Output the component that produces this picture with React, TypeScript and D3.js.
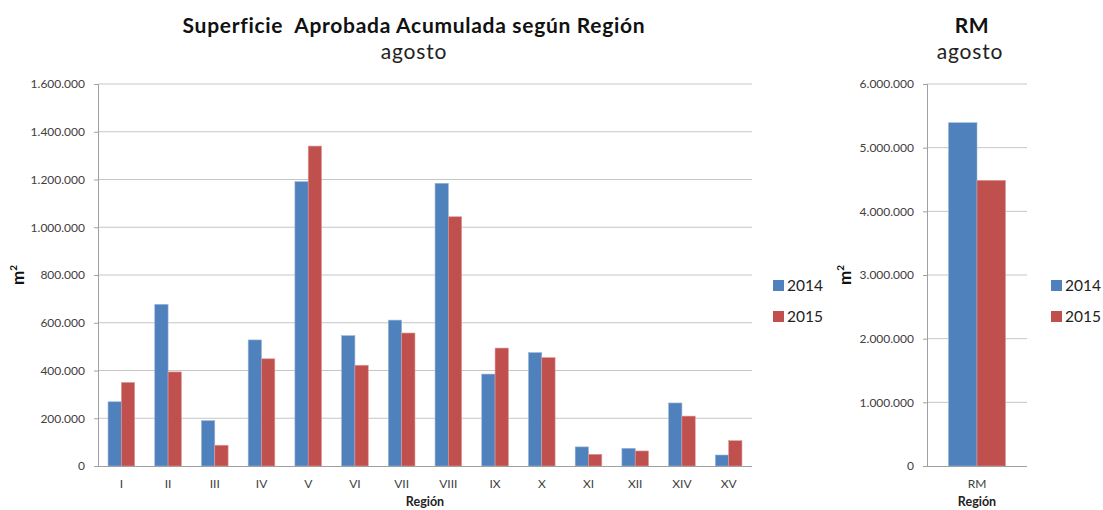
import React, {useEffect, useRef} from "react";
import * as d3 from "d3";

// data
const regions = ["I", "II", "III", "IV", "V", "VI", "VII", "VIII", "IX", "X", "XI", "XII", "XIV", "XV"];
const values2014 = [269000, 677000, 190000, 528000, 1191000, 546000, 611000, 1184000, 385000, 475000, 80000, 74000, 264000, 46000];
const values2015 = [350000, 394000, 87000, 449000, 1340000, 422000, 557000, 1044000, 494000, 454000, 49000, 63000, 209000, 106000];
const rmCategories = ["RM"];
const rm2014 = [5392000];
const rm2015 = [4487000];
const years = ["2014", "2015"];
const mainTicks = [0, 200000, 400000, 600000, 800000, 1000000, 1200000, 1400000, 1600000];
const rmTicks = [0, 1000000, 2000000, 3000000, 4000000, 5000000, 6000000];

const colors = ["#4F81BD", "#C0504D"];
const FONT = "Lato, 'Open Sans', sans-serif";
const fmt = (v: number) => d3.format(",")(v).replace(/,/g, ".");

const App = () => {
    const ref = useRef<SVGSVGElement>(null);

    useEffect(() => {
        const svg = d3.select(ref.current);
        svg.selectAll("*").remove();

        const top = 84;
        const bottom = 466;

        const drawPanel = (opts: any) => {
            const {left, right, cats, s1, s2, ticks, max, titleX, title, legendX, ylabX} = opts;
            const g = svg.append("g");

            const x = d3.scaleBand<string>().domain(cats).range([left, right]).paddingInner(0).paddingOuter(0);
            const y = d3.scaleLinear().domain([0, max]).range([bottom, top]);
            const inner = d3.scaleBand<string>().domain(years).range([0, x.bandwidth() * 0.57]);
            const off = x.bandwidth() * 0.215;

            // gridlines
            g.append("g")
                .selectAll("line")
                .data(ticks.filter((t: number) => t > 0))
                .join("line")
                .attr("x1", left).attr("x2", right)
                .attr("y1", (d: number) => y(d)).attr("y2", (d: number) => y(d))
                .attr("stroke", "#c6c6c6").attr("stroke-width", 1);

            // bars
            const series = [s1, s2];
            series.forEach((vals: number[], si: number) => {
                g.append("g")
                    .selectAll("rect")
                    .data(vals)
                    .join("rect")
                    .attr("x", (d, i) => (x(cats[i]) as number) + off + (inner(years[si]) as number))
                    .attr("y", d => y(d))
                    .attr("width", inner.bandwidth())
                    .attr("height", d => bottom - y(d))
                    .attr("fill", colors[si])
                    .attr("stroke", si === 0 ? "#9bb5d8" : "#dd9a98")
                    .attr("stroke-width", 0.6);
            });

            // y axis
            const yAxis = d3.axisLeft(y).tickValues(ticks).tickSize(4).tickPadding(9).tickFormat((d: any) => fmt(d));
            const ya = g.append("g").attr("transform", `translate(${left},0)`).call(yAxis);
            ya.select(".domain").attr("stroke", "#a0a0a0");
            ya.selectAll(".tick line").attr("stroke", "#a0a0a0");
            ya.selectAll("text").attr("font-family", FONT).attr("font-size", 12).attr("fill", "#404040");

            // x axis
            const xAxis = d3.axisBottom(x).tickSize(0).tickPadding(13);
            const xa = g.append("g").attr("transform", `translate(0,${bottom})`).call(xAxis);
            xa.select(".domain").attr("stroke", "#a0a0a0").attr("d", `M${left - 4},0.5H${right}`);
            xa.selectAll("text").attr("font-family", FONT).attr("font-size", 12).attr("fill", "#404040");

            // axis titles
            g.append("text")
                .attr("x", (left + right) / 2).attr("y", 506)
                .attr("text-anchor", "middle").attr("font-family", FONT)
                .attr("font-size", 12.5).attr("font-weight", "bold").attr("fill", "#222")
                .text("Región");

            const yl = g.append("text")
                .attr("transform", `translate(${ylabX},275) rotate(-90)`)
                .attr("text-anchor", "middle").attr("font-family", FONT)
                .attr("font-size", 17).attr("font-weight", "bold").attr("fill", "#111");
            yl.append("tspan").text("m");
            yl.append("tspan").attr("font-size", 10).attr("dy", -7).text("2");

            // titles
            g.append("text")
                .attr("x", titleX).attr("y", 33)
                .attr("text-anchor", "middle").attr("font-family", FONT)
                .attr("font-size", 21).attr("font-weight", "bold").attr("fill", "#111")
                .attr("letter-spacing", 0.7)
                .text(title);
            g.append("text")
                .attr("x", titleX + (opts.subShift || 0)).attr("y", 59)
                .attr("text-anchor", "middle").attr("font-family", FONT)
                .attr("font-size", 21).attr("fill", "#222")
                .attr("letter-spacing", 0.8)
                .text("agosto");

            // legend
            const lg = g.append("g").attr("transform", `translate(${legendX},280)`);
            years.forEach((yr, i) => {
                lg.append("rect").attr("x", 0).attr("y", i * 31).attr("width", 11).attr("height", 11).attr("fill", colors[i]);
                lg.append("text").attr("x", 14).attr("y", i * 31 + 11)
                    .attr("font-family", FONT).attr("font-size", 15.5).attr("fill", "#222").text(yr);
            });
        };

        drawPanel({
            left: 98, right: 752, cats: regions, s1: values2014, s2: values2015,
            ticks: mainTicks, max: 1600000, titleX: 414, subShift: 0,
            title: "Superficie\u00a0 Aprobada Acumulada según Región",
            legendX: 773, ylabX: 24
        });
        drawPanel({
            left: 927, right: 1027, cats: rmCategories, s1: rm2014, s2: rm2015,
            ticks: rmTicks, max: 6000000, titleX: 972, subShift: -2,
            title: "RM", legendX: 1051, ylabX: 851
        });
    }, []);

    return (
        <svg ref={ref} width={1103} height={510}
             style={{position: "absolute", left: 0, top: 0, background: "#fff"}}/>
    );
};

export default App;
